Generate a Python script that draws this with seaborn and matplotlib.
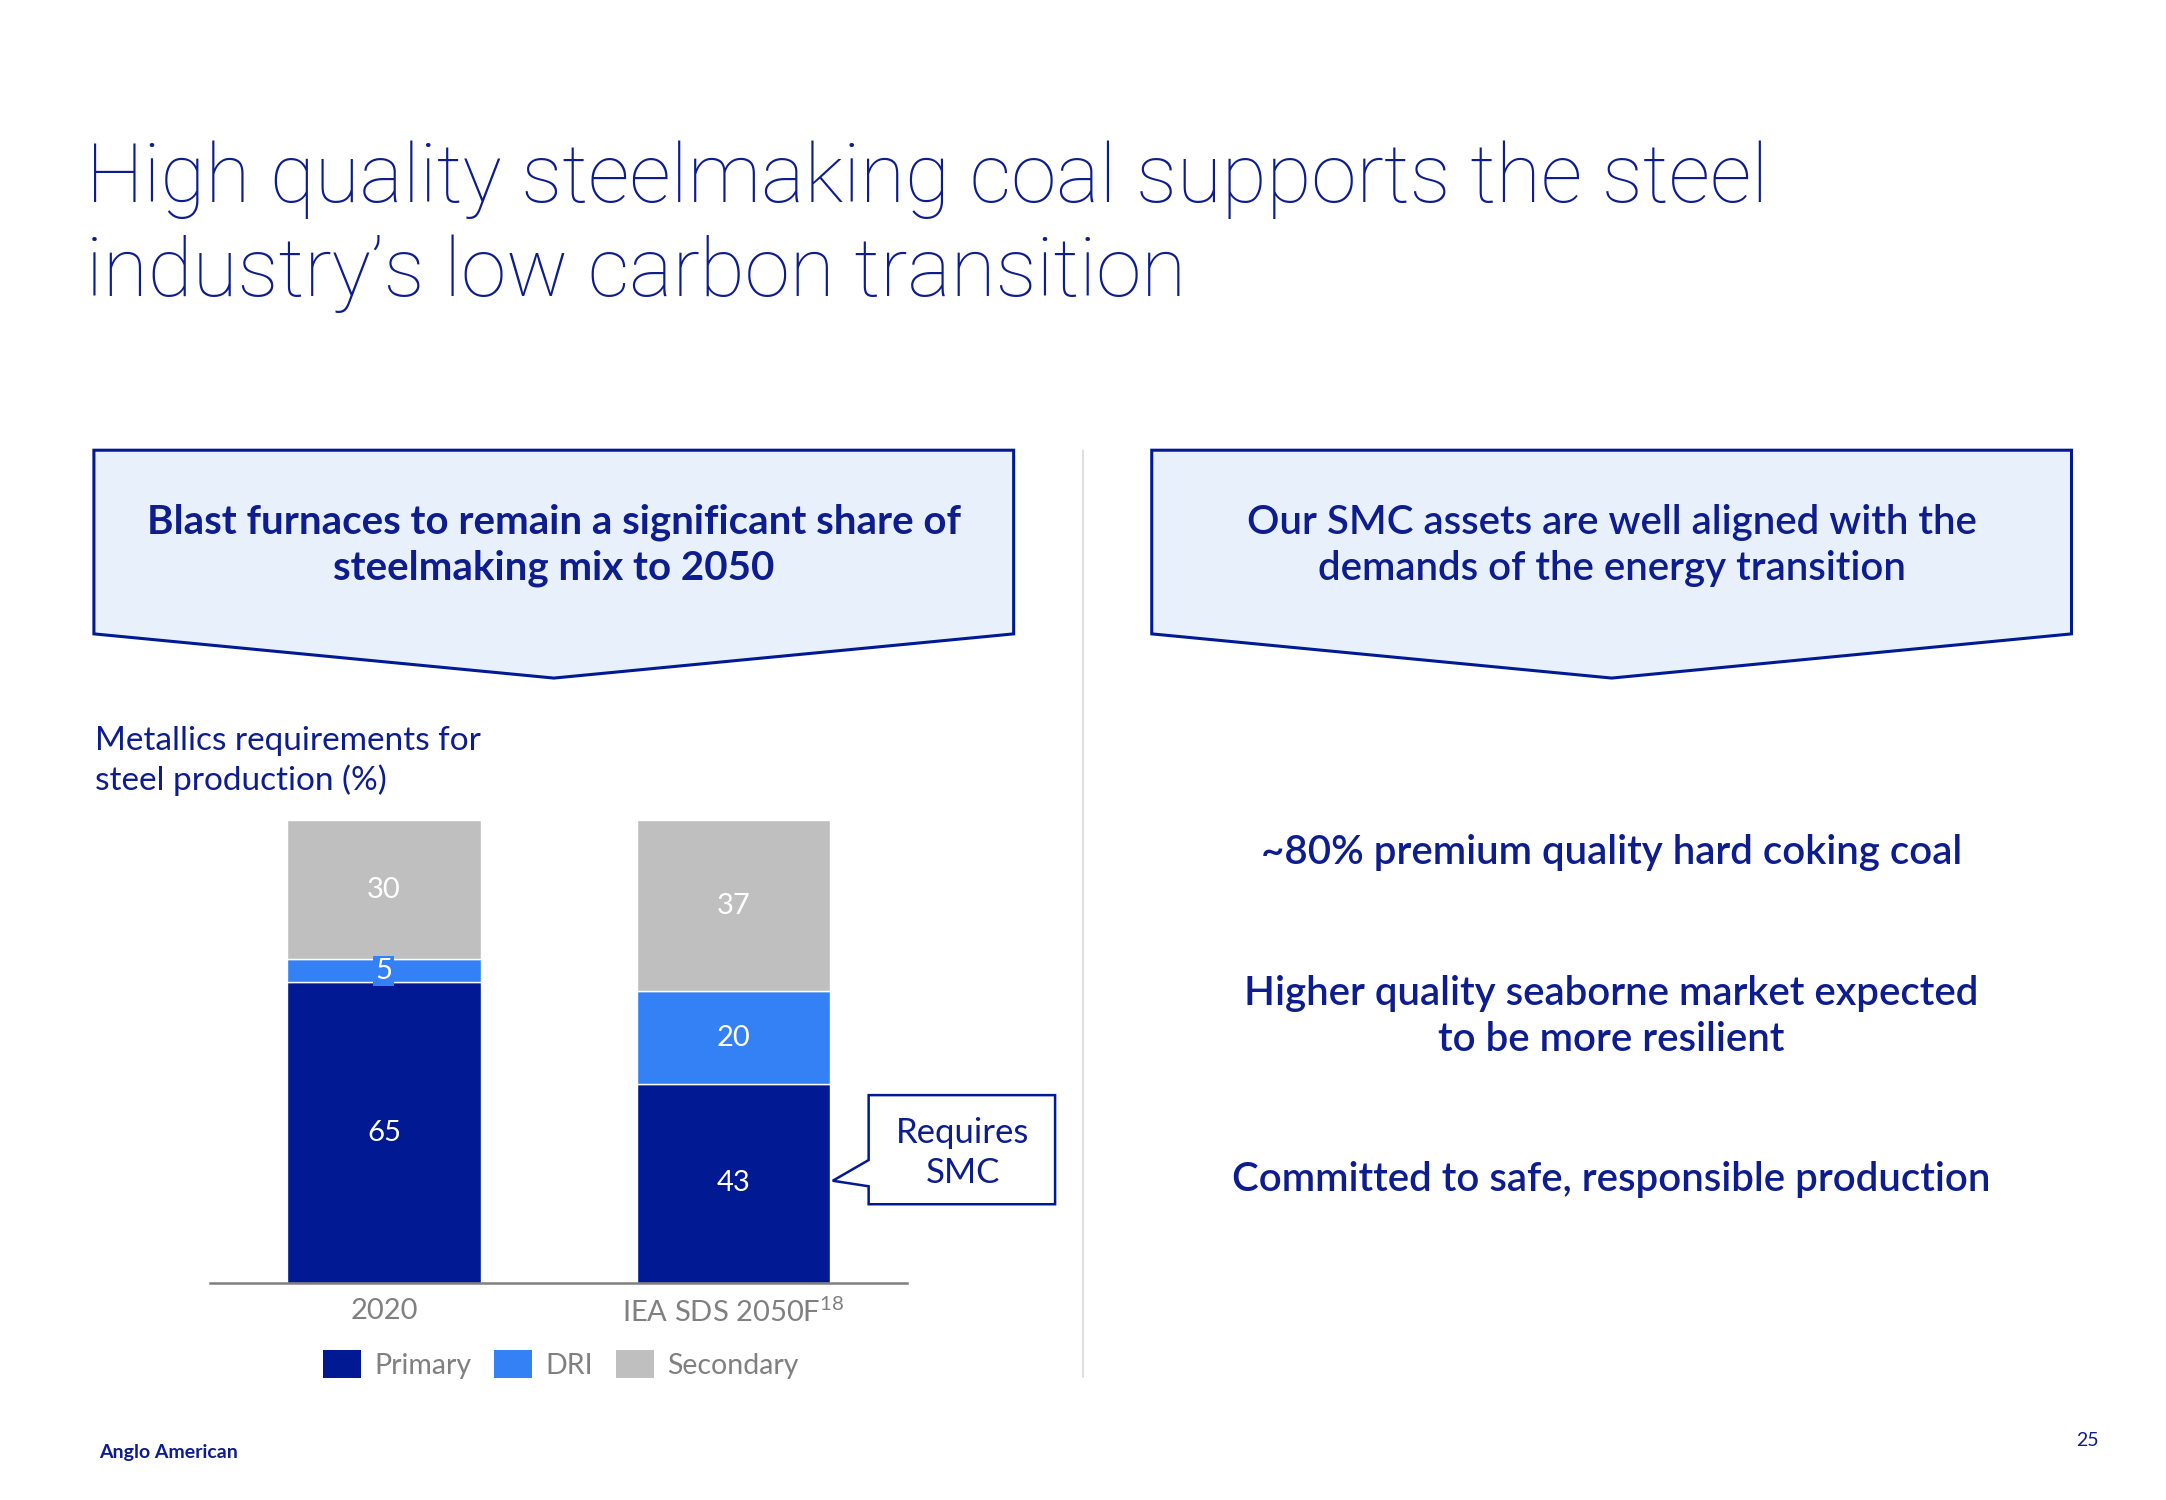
import numpy as np
import pandas as pd
import matplotlib
matplotlib.use("Agg")
import matplotlib.pyplot as plt
from matplotlib.patches import Polygon, Patch
import seaborn as sns

# data
categories = ["2020", "IEA SDS 2050F$^{18}$"]
primary = [65, 43]
dri = [5, 20]
secondary = [30, 37]
series_names = ["Primary", "DRI", "Secondary"]

NAVY = "#0d1d8f"
C_PRIMARY = "#011993"
C_DRI = "#3381f4"
C_SEC = "#bfbfbf"
GREY_TXT = "#808080"
BOX_FILL = "#e8f1fb"

sns.set_theme(style="white")
plt.rcParams["font.family"] = ["Lato", "DejaVu Sans"]
plt.rcParams["mathtext.fontset"] = "custom"
plt.rcParams["mathtext.rm"] = "Lato"
plt.rcParams["mathtext.it"] = "Lato"

W, H = 2166 / 1.381, 1500 / 1.381  # layout grid (px of the reference as viewed)


def fx(x):
    return x / W


def fy(y):
    return 1 - y / H


fig = plt.figure(figsize=(21.66, 15), dpi=100)
fig.patch.set_facecolor("white")

# title
title_lines = ["High quality steelmaking coal supports the steel", "industry\u2019s low carbon transition"]
for yb, line in zip([146, 214], title_lines):
    fig.text(fx(62), fy(yb), line, fontsize=59, color=NAVY, family=["Roboto", "Lato"],
             fontweight="light", ha="left", va="baseline")

# arrow boxes
for x0, x1, txt, wt in [(68, 734, "Blast furnaces to remain a significant share of\nsteelmaking mix to 2050", "bold"),
                        (834, 1500, "Our SMC assets are well aligned with the\ndemands of the energy transition", "semibold")]:
    xm = (x0 + x1) / 2
    pts = [(fx(x0), fy(326)), (fx(x1), fy(326)), (fx(x1), fy(459)), (fx(xm), fy(491)), (fx(x0), fy(459))]
    fig.patches.append(Polygon(pts, closed=True, transform=fig.transFigure, facecolor=BOX_FILL,
                               edgecolor=C_PRIMARY, linewidth=2.2))
    fig.text(fx(xm), fy(395), txt, fontsize=29, color=NAVY, fontweight=wt,
             ha="center", va="center", linespacing=1.3)

# separator
fig.add_artist(plt.Line2D([fx(784), fx(784)], [fy(326), fy(997)], transform=fig.transFigure,
                          color="#d9d9d9", linewidth=1.2))

# chart subtitle
fig.text(fx(69), fy(551), "Metallics requirements for\nsteel production (%)", fontsize=24, color=NAVY,
         ha="left", va="center", linespacing=1.35)

# stacked bars
df = pd.DataFrame({"cat": categories, "Primary": primary, "DRI": dri, "Secondary": secondary})
ax = fig.add_axes([fx(152), fy(929), fx(657) - fx(152), fy(594) - fy(929)])
bw = 0.553
sns.barplot(data=df, x="cat", y="Primary", color=C_PRIMARY, width=bw, saturation=1, ax=ax)
sns.barplot(data=df, x="cat", y="DRI", color=C_DRI, width=bw, saturation=1, ax=ax,
            bottom=np.array(primary))
sns.barplot(data=df, x="cat", y="Secondary", color=C_SEC, width=bw, saturation=1, ax=ax,
            bottom=np.array(primary) + np.array(dri))
ax.set_ylim(0, 100)
ax.set_xlim(-0.498, 1.498)
ax.set_xlabel("")
ax.set_ylabel("")
ax.set_yticks([])
for s in ["top", "right", "left"]:
    ax.spines[s].set_visible(False)
ax.spines["bottom"].set_color(GREY_TXT)
ax.spines["bottom"].set_linewidth(1.8)
ax.tick_params(axis="x", length=0, pad=11, labelsize=21, labelcolor=GREY_TXT)
ax.patch.set_alpha(0)

for i, cont in enumerate(ax.containers):
    labels = ax.bar_label(cont, label_type="center", color="white", fontsize=21)
    if i == 1:
        for t in labels:
            if t.get_text() == "5":
                t.set_bbox(dict(facecolor=C_DRI, edgecolor="none", pad=1.5))

# callout
cpts = [(629, 793), (764, 793), (764, 872), (629, 872), (629, 859), (603, 855), (629, 840)]
fig.patches.append(Polygon([(fx(a), fy(b)) for a, b in cpts], closed=True, transform=fig.transFigure,
                           facecolor="white", edgecolor=C_PRIMARY, linewidth=1.8))
fig.text(fx(697), fy(835), "Requires\nSMC", fontsize=25, color=NAVY, ha="center", va="center",
         linespacing=1.3)

# legend
handles = [Patch(facecolor=c, edgecolor="none") for c in [C_PRIMARY, C_DRI, C_SEC]]
fig.legend(handles, series_names, loc="center", bbox_to_anchor=(fx(406), fy(988)), ncol=3,
           frameon=False, fontsize=20.5, handlelength=1.35, handleheight=1.1, handletextpad=0.45,
           columnspacing=0.8, labelcolor=GREY_TXT)

# right column statements
fig.text(fx(1167), fy(617), "~80% premium quality hard coking coal", fontsize=29, color=NAVY,
         fontweight="semibold", ha="center", va="center")
fig.text(fx(1167), fy(736), "Higher quality seaborne market expected\nto be more resilient", fontsize=29,
         color=NAVY, fontweight="semibold", ha="center", va="center", linespacing=1.3)
fig.text(fx(1167), fy(854), "Committed to safe, responsible production", fontsize=29, color=NAVY,
         fontweight="semibold", ha="center", va="center")

# footer
fig.text(fx(72), fy(1052), "Anglo American", fontsize=14, color=NAVY, fontweight="bold",
         ha="left", va="center")
fig.text(fx(1520), fy(1043), "25", fontsize=14, color=NAVY, ha="right", va="center")

fig.savefig("out.png", dpi=100)
